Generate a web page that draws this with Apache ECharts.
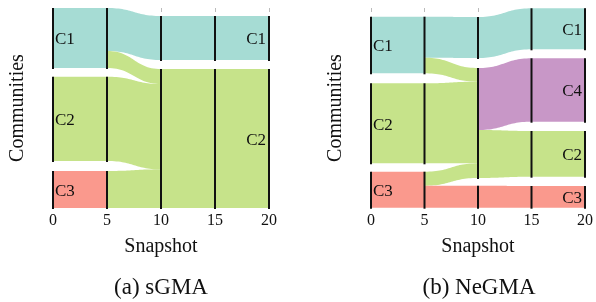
<!DOCTYPE html>
<html>
<head>
<meta charset="utf-8">
<script src="https://cdn.jsdelivr.net/npm/echarts@6/dist/echarts.min.js"></script>
<style>
  html, body { margin: 0; padding: 0; background: #fff; }
  #main { width: 596px; height: 302px; }
</style>
</head>
<body>
<div id="main"></div>
<script>
var snapshots = [0, 5, 10, 15, 20];
var communityColors = { C1: '#a6dcd4', C2: '#c6e38a', C3: '#fa998d', C4: '#c897c7' };

// position scale: 0 = top of plot, 200 = bottom
// bands: [from, to, top at from, bottom at from, top at to, bottom at to, community]
var sgmaBands = [
    [0, 5, 0, 60, 0, 60, 'C1'],
    [0, 5, 68.7, 153, 68.7, 153, 'C2'],
    [0, 5, 163, 200, 163, 200, 'C3'],
    [5, 10, 0, 43, 8, 52, 'C1'],
    [5, 10, 43, 60, 61, 76, 'C2'],
    [5, 10, 68.7, 153, 76, 161.3, 'C2'],
    [5, 10, 163, 200, 161.3, 200, 'C2'],
    [10, 15, 8, 52, 8, 52, 'C1'],
    [10, 15, 61, 200, 61, 200, 'C2'],
    [15, 20, 8, 52, 8, 52, 'C1'],
    [15, 20, 61, 200, 61, 200, 'C2']
];
// nodes: [snapshot, top, bottom, label, label side]
var sgmaNodes = [
    [0, 0, 60, 'C1', 'left'], [0, 68.7, 153, 'C2', 'left'], [0, 163, 200, 'C3', 'left'],
    [5, 0, 60, '', ''], [5, 68.7, 153, '', ''], [5, 163, 200, '', ''],
    [10, 8, 52, '', ''], [10, 61, 200, '', ''],
    [15, 8, 52, '', ''], [15, 61, 200, '', ''],
    [20, 8, 52, 'C1', 'right'], [20, 61, 200, 'C2', 'right']
];

var negmaBands = [
    [0, 5, 8.7, 65.3, 8.7, 65.3, 'C1'],
    [0, 5, 75.3, 155.3, 75.3, 155.3, 'C2'],
    [0, 5, 163.7, 199.7, 163.7, 199.7, 'C3'],
    [5, 10, 8.7, 49.7, 9, 50, 'C1'],
    [5, 10, 49.7, 65.3, 60, 73.7, 'C2'],
    [5, 10, 75.3, 155.3, 73.7, 155.3, 'C2'],
    [5, 10, 163.7, 177.7, 155.3, 170, 'C2'],
    [5, 10, 177.7, 199.7, 177.7, 199.7, 'C3'],
    [10, 15, 9, 50, 0.3, 41.3, 'C1'],
    [10, 15, 60, 122, 50.3, 113.7, 'C4'],
    [10, 15, 122, 170, 123, 168.7, 'C2'],
    [10, 15, 177.7, 199.7, 178, 199.7, 'C3'],
    [15, 20, 0.3, 41.3, 0.3, 41.3, 'C1'],
    [15, 20, 50.3, 113.7, 50.3, 113.7, 'C4'],
    [15, 20, 123, 168.7, 123, 168.7, 'C2'],
    [15, 20, 178, 199.7, 178, 199.7, 'C3']
];
var negmaNodes = [
    [0, 8.7, 65.3, 'C1', 'left'], [0, 75.3, 155.3, 'C2', 'left'], [0, 163.7, 199.7, 'C3', 'left'],
    [5, 8.7, 65.3, '', ''], [5, 75.3, 155.3, '', ''], [5, 163.7, 199.7, '', ''],
    [10, 9, 50, '', ''], [10, 60, 170, '', ''], [10, 177.7, 199.7, '', ''],
    [15, 0.3, 41.3, '', ''], [15, 50.3, 113.7, '', ''], [15, 123, 168.7, '', ''], [15, 178, 199.7, '', ''],
    [20, 0.3, 41.3, 'C1', 'right'], [20, 50.3, 113.7, 'C4', 'right'], [20, 123, 168.7, 'C2', 'right'], [20, 178, 199.7, 'C3', 'right']
];

var serif = '"Liberation Serif", "DejaVu Serif", serif';
var ink = '#111';

function bezier(a, b, c, d, t) {
    var s = 1 - t;
    return s * s * s * a + 3 * s * s * t * b + 3 * s * t * t * c + t * t * t * d;
}

function bandRenderer(bands) {
    return function (params, api) {
        var f = bands[params.dataIndex];
        var p0 = api.coord([f[0], f[2]]), p1 = api.coord([f[1], f[4]]);
        var q0 = api.coord([f[0], f[3]]), q1 = api.coord([f[1], f[5]]);
        var xm = (p0[0] + p1[0]) / 2;
        var pts = [], back = [];
        for (var i = 0; i <= 30; i++) {
            var t = i / 30;
            var x = bezier(p0[0], xm, xm, p1[0], t);
            pts.push([x, bezier(p0[1], p0[1], p1[1], p1[1], t)]);
            back.push([x, bezier(q0[1], q0[1], q1[1], q1[1], t)]);
        }
        return {
            type: 'polygon',
            shape: { points: pts.concat(back.reverse()) },
            style: { fill: communityColors[f[6]] }
        };
    };
}

function nodeRenderer(nodes) {
    return function (params, api) {
        var n = nodes[params.dataIndex];
        var a = api.coord([n[0], n[1]]), b = api.coord([n[0], n[2]]);
        var children = [{
            type: 'line',
            shape: { x1: a[0], y1: a[1], x2: b[0], y2: b[1] + 1 },
            style: { stroke: ink, lineWidth: 2 }
        }];
        if (n[3]) {
            children.push({
                type: 'text',
                x: n[4] === 'left' ? a[0] + 2 : a[0] - 3,
                y: (a[1] + b[1]) / 2 + 2,
                style: {
                    text: n[3], font: '17px ' + serif, fill: ink,
                    align: n[4], verticalAlign: 'middle'
                }
            });
        }
        return { type: 'group', children: children };
    };
}

function xAxisFor(i) {
    return {
        gridIndex: i, type: 'value', min: 0, max: 20, interval: 5,
        name: 'Snapshot', nameLocation: 'middle', nameGap: 29,
        nameTextStyle: { fontFamily: serif, fontSize: 20, color: ink },
        axisLine: { show: false },
        axisTick: { show: true, length: 4, lineStyle: { color: '#bbb' } },
        axisLabel: { fontFamily: serif, fontSize: 16, color: ink, margin: 5 },
        splitLine: { show: false }
    };
}

function yAxisFor(i) {
    return {
        gridIndex: i, type: 'value', inverse: true, min: 0, max: 200,
        name: 'Communities', nameLocation: 'middle', nameGap: 25,
        nameTextStyle: { fontFamily: serif, fontSize: 20, color: ink },
        axisLine: { show: false }, axisTick: { show: false },
        axisLabel: { show: false }, splitLine: { show: false }
    };
}

function numeric(rows, cols) {
    return rows.map(function (r) { return r.slice(0, cols); });
}

var myChart = echarts.init(document.getElementById('main'));
var option = {
    animation: false,
    grid: [
        { left: 53, top: 8, width: 216, height: 200 },
        { left: 371, top: 8, width: 216, height: 200 }
    ],
    xAxis: [xAxisFor(0), xAxisFor(1)],
    yAxis: [yAxisFor(0), yAxisFor(1)],
    graphic: [
        { type: 'text', x: 161, y: 288, style: { text: '(a) sGMA', font: '23px ' + serif, fill: ink, align: 'center', verticalAlign: 'middle' } },
        { type: 'text', x: 479, y: 288, style: { text: '(b) NeGMA', font: '23px ' + serif, fill: ink, align: 'center', verticalAlign: 'middle' } }
    ],
    series: [
        { type: 'custom', xAxisIndex: 0, yAxisIndex: 0, clip: false, renderItem: bandRenderer(sgmaBands), data: numeric(sgmaBands, 6) },
        { type: 'custom', xAxisIndex: 0, yAxisIndex: 0, clip: false, renderItem: nodeRenderer(sgmaNodes), data: numeric(sgmaNodes, 3) },
        { type: 'custom', xAxisIndex: 1, yAxisIndex: 1, clip: false, renderItem: bandRenderer(negmaBands), data: numeric(negmaBands, 6) },
        { type: 'custom', xAxisIndex: 1, yAxisIndex: 1, clip: false, renderItem: nodeRenderer(negmaNodes), data: numeric(negmaNodes, 3) }
    ]
};
myChart.setOption(option);
</script>
</body>
</html>
